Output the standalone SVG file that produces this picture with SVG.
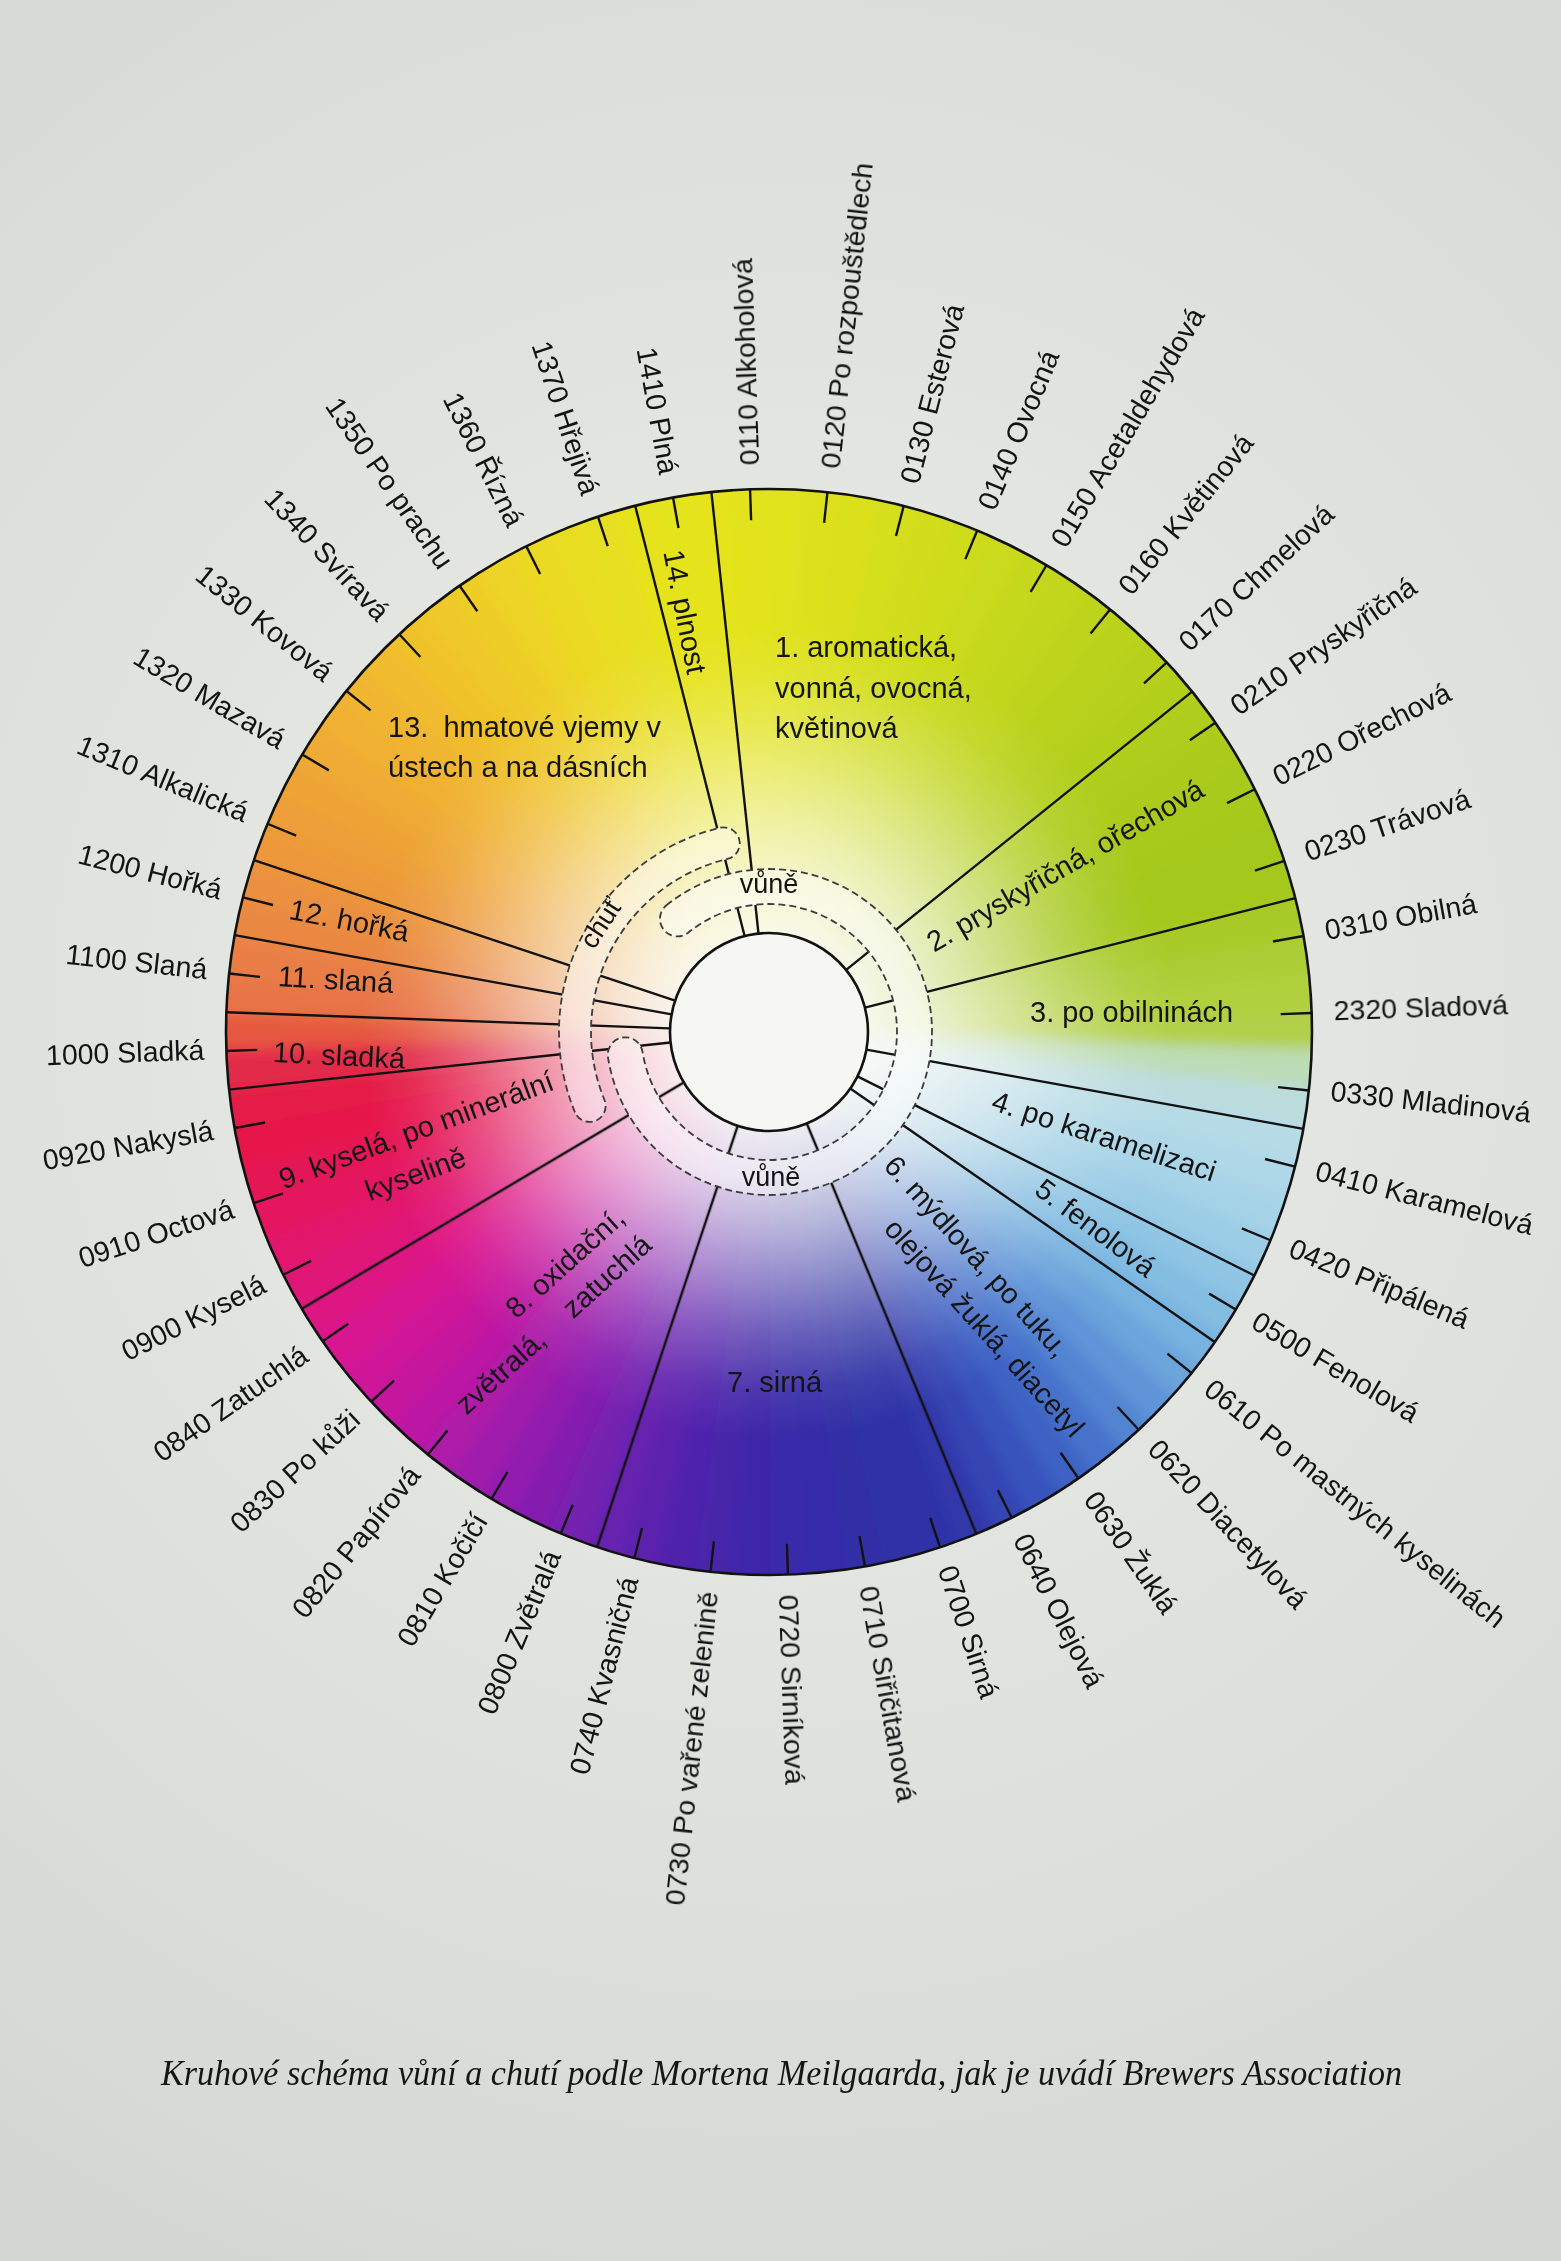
<svg xmlns="http://www.w3.org/2000/svg" width="1561" height="2261" viewBox="0 0 1561 2261">
<style>
  .lb { font-family: "Liberation Sans", Arial, sans-serif; font-size: 28.5px; fill: #141414; dominant-baseline: central; }
  .r { text-anchor: start; }
  .l { text-anchor: end; }
  .cat { font-family: "Liberation Sans", Arial, sans-serif; font-size: 29px; fill: #141414; dominant-baseline: central; }
  .ring { font-family: "Liberation Sans", Arial, sans-serif; font-size: 27px; fill: #141414; dominant-baseline: central; text-anchor: middle; }
  .spoke { stroke: #121212; stroke-width: 2.4; }
  .tick { stroke: #121212; stroke-width: 2.4; }
  .band { fill: #ffffff; fill-opacity: 0.42; stroke: #3c3c3c; stroke-width: 1.8; stroke-dasharray: 7 4; }
  .caption { font-family: "Liberation Serif", "Times New Roman", serif; font-style: italic; font-size: 35px; fill: #161616; }
</style>
<defs>
  <radialGradient id="bg" cx="780" cy="1000" r="1400" gradientUnits="userSpaceOnUse">
    <stop offset="0" stop-color="#eceeea"/>
    <stop offset="1" stop-color="#d5d7d3"/>
  </radialGradient>
  <radialGradient id="fade" cx="769" cy="1032" r="543" gradientUnits="userSpaceOnUse">
    <stop offset="0" stop-color="#fbfbf7" stop-opacity="1"/>
    <stop offset="0.19" stop-color="#fbfbf7" stop-opacity="0.92"/>
    <stop offset="0.27" stop-color="#fbfbf7" stop-opacity="0.82"/>
    <stop offset="0.36" stop-color="#fbfbf7" stop-opacity="0.66"/>
    <stop offset="0.46" stop-color="#fbfbf7" stop-opacity="0.46"/>
    <stop offset="0.56" stop-color="#fbfbf7" stop-opacity="0.25"/>
    <stop offset="0.66" stop-color="#fbfbf7" stop-opacity="0.08"/>
    <stop offset="0.75" stop-color="#fbfbf7" stop-opacity="0"/>
    <stop offset="1" stop-color="#fbfbf7" stop-opacity="0"/>
  </radialGradient>
  <clipPath id="wheelClip"><circle cx="769" cy="1032" r="543"/></clipPath>
  <filter id="soft" x="-10%" y="-10%" width="120%" height="120%"><feGaussianBlur stdDeviation="7"/></filter>
  <path id="w" d="M769 1032 L1388.54 1008.2 A620 620 0 0 1 1388.54 1055.8 Z"/>
  <line id="sp" x1="868" y1="1032" x2="1312" y2="1032"/>
  <line id="tk" x1="1281" y1="1032" x2="1312" y2="1032"/>
  <path id="bandA" d="M666.42 905.32 A163 163 0 1 1 608.01 1057.5 A17.5 17.5 0 0 1 642.58 1052.02 A128 128 0 1 0 688.45 932.52 A17.5 17.5 0 0 1 666.42 905.32 Z"/>
  <path id="bandB" d="M574.99 1112.36 A210 210 0 0 1 719.98 827.8 A16 16 0 0 1 727.45 858.92 A178 178 0 0 0 604.55 1100.12 A16 16 0 0 1 574.99 1112.36 Z"/>
  <mask id="spokeMask" maskUnits="userSpaceOnUse" x="0" y="0" width="1561" height="2261">
    <rect x="0" y="0" width="1561" height="2261" fill="#fff"/>
    <use href="#bandA" fill="#000"/>
    <use href="#bandB" fill="#000"/>
  </mask>
</defs>

<rect x="0" y="0" width="1561" height="2261" fill="url(#bg)"/>

<g id="wheel">
  <g clip-path="url(#wheelClip)">
    <g filter="url(#soft)">
      <use href="#w" transform="rotate(-180 769 1032)" fill="#e65840"/>
      <use href="#w" transform="rotate(-176 769 1032)" fill="#e87446"/>
      <use href="#w" transform="rotate(-172 769 1032)" fill="#e97e46"/>
      <use href="#w" transform="rotate(-168 769 1032)" fill="#ea8842"/>
      <use href="#w" transform="rotate(-164 769 1032)" fill="#eb9040"/>
      <use href="#w" transform="rotate(-160 769 1032)" fill="#ec983a"/>
      <use href="#w" transform="rotate(-156 769 1032)" fill="#ed9e38"/>
      <use href="#w" transform="rotate(-152 769 1032)" fill="#eea436"/>
      <use href="#w" transform="rotate(-148 769 1032)" fill="#efaa34"/>
      <use href="#w" transform="rotate(-144 769 1032)" fill="#f0b032"/>
      <use href="#w" transform="rotate(-140 769 1032)" fill="#f0b630"/>
      <use href="#w" transform="rotate(-136 769 1032)" fill="#f0bc2e"/>
      <use href="#w" transform="rotate(-132 769 1032)" fill="#f0c22c"/>
      <use href="#w" transform="rotate(-128 769 1032)" fill="#efc82a"/>
      <use href="#w" transform="rotate(-124 769 1032)" fill="#eece28"/>
      <use href="#w" transform="rotate(-120 769 1032)" fill="#edd426"/>
      <use href="#w" transform="rotate(-116 769 1032)" fill="#ebd924"/>
      <use href="#w" transform="rotate(-112 769 1032)" fill="#e9dd22"/>
      <use href="#w" transform="rotate(-108 769 1032)" fill="#e7e020"/>
      <use href="#w" transform="rotate(-104 769 1032)" fill="#e6e21e"/>
      <use href="#w" transform="rotate(-100 769 1032)" fill="#e5e31d"/>
      <use href="#w" transform="rotate(-96 769 1032)" fill="#e4e31c"/>
      <use href="#w" transform="rotate(-92 769 1032)" fill="#e2e31c"/>
      <use href="#w" transform="rotate(-88 769 1032)" fill="#e0e21c"/>
      <use href="#w" transform="rotate(-84 769 1032)" fill="#dde11c"/>
      <use href="#w" transform="rotate(-80 769 1032)" fill="#dae01c"/>
      <use href="#w" transform="rotate(-76 769 1032)" fill="#d6df1c"/>
      <use href="#w" transform="rotate(-72 769 1032)" fill="#d2dd1c"/>
      <use href="#w" transform="rotate(-68 769 1032)" fill="#cedc1d"/>
      <use href="#w" transform="rotate(-64 769 1032)" fill="#cada1d"/>
      <use href="#w" transform="rotate(-60 769 1032)" fill="#c6d81e"/>
      <use href="#w" transform="rotate(-56 769 1032)" fill="#c2d61e"/>
      <use href="#w" transform="rotate(-52 769 1032)" fill="#bed41e"/>
      <use href="#w" transform="rotate(-48 769 1032)" fill="#bad21e"/>
      <use href="#w" transform="rotate(-44 769 1032)" fill="#b6d01e"/>
      <use href="#w" transform="rotate(-40 769 1032)" fill="#b2cf1d"/>
      <use href="#w" transform="rotate(-36 769 1032)" fill="#aecd1c"/>
      <use href="#w" transform="rotate(-32 769 1032)" fill="#abcc1b"/>
      <use href="#w" transform="rotate(-28 769 1032)" fill="#a8ca1a"/>
      <use href="#w" transform="rotate(-24 769 1032)" fill="#a6c91a"/>
      <use href="#w" transform="rotate(-20 769 1032)" fill="#a4c81b"/>
      <use href="#w" transform="rotate(-16 769 1032)" fill="#a4c81e"/>
      <use href="#w" transform="rotate(-12 769 1032)" fill="#a8cb2a"/>
      <use href="#w" transform="rotate(-8 769 1032)" fill="#accd34"/>
      <use href="#w" transform="rotate(-4 769 1032)" fill="#b0d03e"/>
      <use href="#w" transform="rotate(0 769 1032)" fill="#b2d048"/>
      <use href="#w" transform="rotate(4 769 1032)" fill="#bcdcb6"/>
      <use href="#w" transform="rotate(8 769 1032)" fill="#bcdcde"/>
      <use href="#w" transform="rotate(12 769 1032)" fill="#b6dbe6"/>
      <use href="#w" transform="rotate(16 769 1032)" fill="#aed7e7"/>
      <use href="#w" transform="rotate(20 769 1032)" fill="#a6d3e7"/>
      <use href="#w" transform="rotate(24 769 1032)" fill="#9ccde6"/>
      <use href="#w" transform="rotate(28 769 1032)" fill="#90c6e4"/>
      <use href="#w" transform="rotate(32 769 1032)" fill="#84bde2"/>
      <use href="#w" transform="rotate(36 769 1032)" fill="#78b2e0"/>
      <use href="#w" transform="rotate(40 769 1032)" fill="#6ca4dc"/>
      <use href="#w" transform="rotate(44 769 1032)" fill="#5e94d8"/>
      <use href="#w" transform="rotate(48 769 1032)" fill="#5284d2"/>
      <use href="#w" transform="rotate(52 769 1032)" fill="#4672cc"/>
      <use href="#w" transform="rotate(56 769 1032)" fill="#3e62c4"/>
      <use href="#w" transform="rotate(60 769 1032)" fill="#3852bc"/>
      <use href="#w" transform="rotate(64 769 1032)" fill="#3444b2"/>
      <use href="#w" transform="rotate(68 769 1032)" fill="#3038aa"/>
      <use href="#w" transform="rotate(72 769 1032)" fill="#2e32a6"/>
      <use href="#w" transform="rotate(76 769 1032)" fill="#2e30a6"/>
      <use href="#w" transform="rotate(80 769 1032)" fill="#302ea6"/>
      <use href="#w" transform="rotate(84 769 1032)" fill="#342ca8"/>
      <use href="#w" transform="rotate(88 769 1032)" fill="#382aa8"/>
      <use href="#w" transform="rotate(92 769 1032)" fill="#3e28a8"/>
      <use href="#w" transform="rotate(96 769 1032)" fill="#4626aa"/>
      <use href="#w" transform="rotate(100 769 1032)" fill="#5024ac"/>
      <use href="#w" transform="rotate(104 769 1032)" fill="#5c22ae"/>
      <use href="#w" transform="rotate(108 769 1032)" fill="#6820b0"/>
      <use href="#w" transform="rotate(112 769 1032)" fill="#7620b0"/>
      <use href="#w" transform="rotate(116 769 1032)" fill="#841eb0"/>
      <use href="#w" transform="rotate(120 769 1032)" fill="#921caf"/>
      <use href="#w" transform="rotate(124 769 1032)" fill="#a01aac"/>
      <use href="#w" transform="rotate(128 769 1032)" fill="#ae1aa8"/>
      <use href="#w" transform="rotate(132 769 1032)" fill="#bc18a4"/>
      <use href="#w" transform="rotate(136 769 1032)" fill="#c6169e"/>
      <use href="#w" transform="rotate(140 769 1032)" fill="#d01698"/>
      <use href="#w" transform="rotate(144 769 1032)" fill="#d81490"/>
      <use href="#w" transform="rotate(148 769 1032)" fill="#de1284"/>
      <use href="#w" transform="rotate(152 769 1032)" fill="#e01276"/>
      <use href="#w" transform="rotate(156 769 1032)" fill="#e2126a"/>
      <use href="#w" transform="rotate(160 769 1032)" fill="#e4125e"/>
      <use href="#w" transform="rotate(164 769 1032)" fill="#e51254"/>
      <use href="#w" transform="rotate(168 769 1032)" fill="#e6144c"/>
      <use href="#w" transform="rotate(172 769 1032)" fill="#e41c46"/>
      <use href="#w" transform="rotate(176 769 1032)" fill="#e22a48"/>
    </g>
  </g>
  <circle cx="769" cy="1032" r="543" fill="url(#fade)"/>
  <circle id="hub" cx="769" cy="1032" r="99" fill="#f6f6f2" stroke="#121212" stroke-width="2.6"/>
</g>

<g id="connectors" class="spoke" mask="url(#spokeMask)">
  <use href="#sp" transform="rotate(-104.27 769 1032)"/>
  <use href="#sp" transform="rotate(-96.09 769 1032)"/>
  <use href="#sp" transform="rotate(-38.82 769 1032)"/>
  <use href="#sp" transform="rotate(-14.27 769 1032)"/>
  <use href="#sp" transform="rotate(10.27 769 1032)"/>
  <use href="#sp" transform="rotate(26.64 769 1032)"/>
  <use href="#sp" transform="rotate(34.82 769 1032)"/>
  <use href="#sp" transform="rotate(67.55 769 1032)"/>
  <use href="#sp" transform="rotate(108.45 769 1032)"/>
  <use href="#sp" transform="rotate(149.36 769 1032)"/>
  <use href="#sp" transform="rotate(173.91 769 1032)"/>
  <use href="#sp" transform="rotate(182.09 769 1032)"/>
  <use href="#sp" transform="rotate(190.27 769 1032)"/>
  <use href="#sp" transform="rotate(198.45 769 1032)"/>
</g>

<g id="band-vune">
  <use href="#bandA" class="band"/>
  <text class="ring" x="769" y="884">vůně</text>
  <text class="ring" x="771" y="1177">vůně</text>
</g>
<g id="band-chut">
  <use href="#bandB" class="band"/>
  <text class="ring" transform="translate(601 923) rotate(-57)" x="0" y="0">chuť</text>
</g>

<g id="rim">
  <circle cx="769" cy="1032" r="543" fill="none" stroke="#121212" stroke-width="2.6"/>
  <g class="tick">
    <use href="#tk" transform="rotate(-92 769 1032)"/>
    <use href="#tk" transform="rotate(-83.82 769 1032)"/>
    <use href="#tk" transform="rotate(-75.64 769 1032)"/>
    <use href="#tk" transform="rotate(-67.45 769 1032)"/>
    <use href="#tk" transform="rotate(-59.27 769 1032)"/>
    <use href="#tk" transform="rotate(-51.09 769 1032)"/>
    <use href="#tk" transform="rotate(-42.91 769 1032)"/>
    <use href="#tk" transform="rotate(-34.73 769 1032)"/>
    <use href="#tk" transform="rotate(-26.55 769 1032)"/>
    <use href="#tk" transform="rotate(-18.36 769 1032)"/>
    <use href="#tk" transform="rotate(-10.18 769 1032)"/>
    <use href="#tk" transform="rotate(-2 769 1032)"/>
    <use href="#tk" transform="rotate(6.18 769 1032)"/>
    <use href="#tk" transform="rotate(14.36 769 1032)"/>
    <use href="#tk" transform="rotate(22.55 769 1032)"/>
    <use href="#tk" transform="rotate(30.73 769 1032)"/>
    <use href="#tk" transform="rotate(38.91 769 1032)"/>
    <use href="#tk" transform="rotate(47.09 769 1032)"/>
    <use href="#tk" transform="rotate(55.27 769 1032)"/>
    <use href="#tk" transform="rotate(63.45 769 1032)"/>
    <use href="#tk" transform="rotate(71.64 769 1032)"/>
    <use href="#tk" transform="rotate(79.82 769 1032)"/>
    <use href="#tk" transform="rotate(88 769 1032)"/>
    <use href="#tk" transform="rotate(96.18 769 1032)"/>
    <use href="#tk" transform="rotate(104.36 769 1032)"/>
    <use href="#tk" transform="rotate(112.55 769 1032)"/>
    <use href="#tk" transform="rotate(120.73 769 1032)"/>
    <use href="#tk" transform="rotate(128.91 769 1032)"/>
    <use href="#tk" transform="rotate(137.09 769 1032)"/>
    <use href="#tk" transform="rotate(145.27 769 1032)"/>
    <use href="#tk" transform="rotate(153.45 769 1032)"/>
    <use href="#tk" transform="rotate(161.64 769 1032)"/>
    <use href="#tk" transform="rotate(169.82 769 1032)"/>
    <use href="#tk" transform="rotate(178 769 1032)"/>
    <use href="#tk" transform="rotate(186.18 769 1032)"/>
    <use href="#tk" transform="rotate(194.36 769 1032)"/>
    <use href="#tk" transform="rotate(202.55 769 1032)"/>
    <use href="#tk" transform="rotate(210.73 769 1032)"/>
    <use href="#tk" transform="rotate(218.91 769 1032)"/>
    <use href="#tk" transform="rotate(227.09 769 1032)"/>
    <use href="#tk" transform="rotate(235.27 769 1032)"/>
    <use href="#tk" transform="rotate(243.45 769 1032)"/>
    <use href="#tk" transform="rotate(251.64 769 1032)"/>
    <use href="#tk" transform="rotate(259.82 769 1032)"/>
  </g>
</g>

<g id="categories">
  <g id="cat-1">
    <text class="cat" x="775" y="647">1. aromatická,</text>
    <text class="cat" x="775" y="688">vonná, ovocná,</text>
    <text class="cat" x="775" y="728">květinová</text>
  </g>
  <g id="cat-2"><text class="cat" transform="translate(929 944) rotate(-30)" x="0" y="0">2. pryskyřičná, ořechová</text></g>
  <g id="cat-3"><text class="cat" x="1030" y="1012">3. po obilninách</text></g>
  <g id="cat-4"><text class="cat" transform="translate(993 1100) rotate(18)" x="0" y="0">4. po karamelizaci</text></g>
  <g id="cat-5"><text class="cat" transform="translate(1039 1185) rotate(37)" x="0" y="0">5. fenolová</text></g>
  <g id="cat-6" transform="translate(890 1160) rotate(48)">
    <text class="cat" x="0" y="0">6. mýdlová, po tuku,</text>
    <text class="cat" x="47" y="42">olejová žuklá, diacetyl</text>
  </g>
  <g id="cat-7"><text class="cat" x="727" y="1382">7. sirná</text></g>
  <g id="cat-8" transform="translate(620 1213) rotate(-42)">
    <text class="cat" x="0" y="0" text-anchor="end">8. oxidační,</text>
    <text class="cat" x="2" y="38" text-anchor="end">zvětralá, <tspan dx="26">zatuchlá</tspan></text>
  </g>
  <g id="cat-9" transform="translate(280 1180) rotate(-20.2)">
    <text class="cat" x="0" y="0">9. kyselá, po minerální</text>
    <text class="cat" x="77" y="41">kyselině</text>
  </g>
  <g id="cat-10"><text class="cat" transform="translate(273 1052) rotate(2.9)" x="0" y="0">10. sladká</text></g>
  <g id="cat-11"><text class="cat" transform="translate(278 976) rotate(3.4)" x="0" y="0">11. slaná</text></g>
  <g id="cat-12"><text class="cat" transform="translate(290 909) rotate(11)" x="0" y="0">12. hořká</text></g>
  <g id="cat-13">
    <text class="cat" x="388" y="727">13. <tspan dx="7">hmatové vjemy v</tspan></text>
    <text class="cat" x="388" y="767">ústech a na dásních</text>
  </g>
  <g id="cat-14"><text class="cat" transform="translate(673 550) rotate(79)" x="0" y="0">14. plnost</text></g>
</g>

<g id="labels" class="lb">
  <text class="lb r" x="1334" y="1030" transform="rotate(-92 769 1030)">0110 Alkoholová</text>
  <text class="lb r" x="1334" y="1030" transform="rotate(-83.82 769 1030)">0120 Po rozpouštědlech</text>
  <text class="lb r" x="1334" y="1030" transform="rotate(-75.64 769 1030)">0130 Esterová</text>
  <text class="lb r" x="1334" y="1030" transform="rotate(-67.45 769 1030)">0140 Ovocná</text>
  <text class="lb r" x="1334" y="1030" transform="rotate(-59.27 769 1030)">0150 Acetaldehydová</text>
  <text class="lb r" x="1334" y="1030" transform="rotate(-51.09 769 1030)">0160 Květinová</text>
  <text class="lb r" x="1334" y="1030" transform="rotate(-42.91 769 1030)">0170 Chmelová</text>
  <text class="lb r" x="1334" y="1030" transform="rotate(-34.73 769 1030)">0210 Pryskyřičná</text>
  <text class="lb r" x="1334" y="1030" transform="rotate(-26.55 769 1030)">0220 Ořechová</text>
  <text class="lb r" x="1334" y="1030" transform="rotate(-18.36 769 1030)">0230 Trávová</text>
  <text class="lb r" x="1334" y="1030" transform="rotate(-10.18 769 1030)">0310 Obilná</text>
  <text class="lb r" x="1334" y="1030" transform="rotate(-2 769 1030)">2320 Sladová</text>
  <text class="lb r" x="1334" y="1030" transform="rotate(6.18 769 1030)">0330 Mladinová</text>
  <text class="lb r" x="1334" y="1030" transform="rotate(14.36 769 1030)">0410 Karamelová</text>
  <text class="lb r" x="1334" y="1030" transform="rotate(22.55 769 1030)">0420 Připálená</text>
  <text class="lb r" x="1334" y="1030" transform="rotate(30.73 769 1030)">0500 Fenolová</text>
  <text class="lb r" x="1334" y="1030" transform="rotate(38.91 769 1030)">0610 Po mastných kyselinách</text>
  <text class="lb r" x="1334" y="1030" transform="rotate(47.09 769 1030)">0620 Diacetylová</text>
  <text class="lb r" x="1334" y="1030" transform="rotate(55.27 769 1030)">0630 Žuklá</text>
  <text class="lb r" x="1334" y="1030" transform="rotate(63.45 769 1030)">0640 Olejová</text>
  <text class="lb r" x="1334" y="1030" transform="rotate(71.64 769 1030)">0700 Sirná</text>
  <text class="lb r" x="1334" y="1030" transform="rotate(79.82 769 1030)">0710 Siřičitanová</text>
  <text class="lb r" x="1334" y="1030" transform="rotate(88 769 1030)">0720 Sirníková</text>
  <text class="lb l" x="204" y="1030" transform="rotate(-83.82 769 1030)">0730 Po vařené zelenině</text>
  <text class="lb l" x="204" y="1030" transform="rotate(-75.64 769 1030)">0740 Kvasničná</text>
  <text class="lb l" x="204" y="1030" transform="rotate(-67.45 769 1030)">0800 Zvětralá</text>
  <text class="lb l" x="204" y="1030" transform="rotate(-59.27 769 1030)">0810 Kočičí</text>
  <text class="lb l" x="204" y="1030" transform="rotate(-51.09 769 1030)">0820 Papírová</text>
  <text class="lb l" x="204" y="1030" transform="rotate(-42.91 769 1030)">0830 Po kůži</text>
  <text class="lb l" x="204" y="1030" transform="rotate(-34.73 769 1030)">0840 Zatuchlá</text>
  <text class="lb l" x="204" y="1030" transform="rotate(-26.55 769 1030)">0900 Kyselá</text>
  <text class="lb l" x="204" y="1030" transform="rotate(-18.36 769 1030)">0910 Octová</text>
  <text class="lb l" x="204" y="1030" transform="rotate(-10.18 769 1030)">0920 Nakyslá</text>
  <text class="lb l" x="204" y="1030" transform="rotate(-2 769 1030)">1000 Sladká</text>
  <text class="lb l" x="204" y="1030" transform="rotate(6.18 769 1030)">1100 Slaná</text>
  <text class="lb l" x="204" y="1030" transform="rotate(14.36 769 1030)">1200 Hořká</text>
  <text class="lb l" x="204" y="1030" transform="rotate(22.55 769 1030)">1310 Alkalická</text>
  <text class="lb l" x="204" y="1030" transform="rotate(30.73 769 1030)">1320 Mazavá</text>
  <text class="lb l" x="204" y="1030" transform="rotate(38.91 769 1030)">1330 Kovová</text>
  <text class="lb l" x="204" y="1030" transform="rotate(47.09 769 1030)">1340 Svíravá</text>
  <text class="lb l" x="204" y="1030" transform="rotate(55.27 769 1030)">1350 Po prachu</text>
  <text class="lb l" x="204" y="1030" transform="rotate(63.45 769 1030)">1360 Řízná</text>
  <text class="lb l" x="204" y="1030" transform="rotate(71.64 769 1030)">1370 Hřejivá</text>
  <text class="lb l" x="204" y="1030" transform="rotate(79.82 769 1030)">1410 Plná</text>
</g>

<g id="caption">
  <text class="caption" x="161" y="2085" textLength="1241" lengthAdjust="spacingAndGlyphs">Kruhové schéma vůní a chutí podle Mortena Meilgaarda, jak je uvádí Brewers Association</text>
</g>
</svg>
